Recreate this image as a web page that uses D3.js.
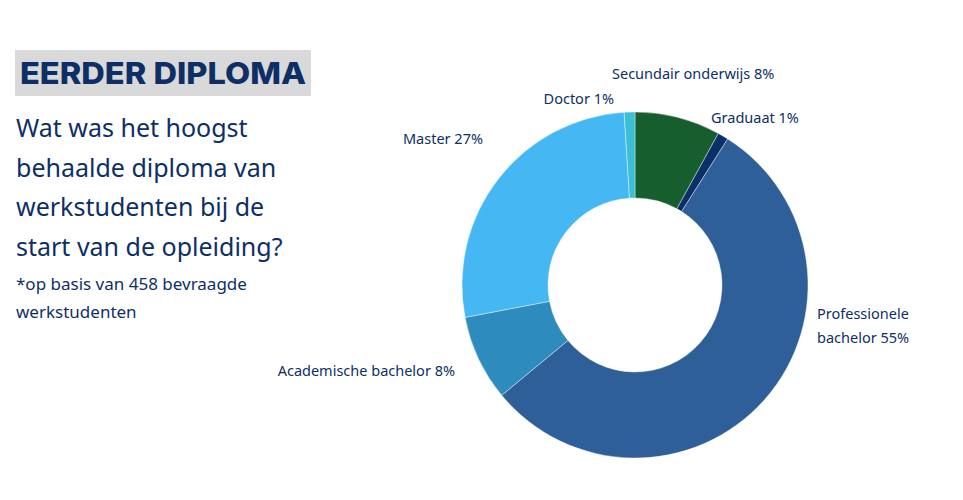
<!DOCTYPE html>
<html>
<head>
<meta charset="utf-8">
<script src="https://cdn.jsdelivr.net/npm/d3@7"></script>
<style>
  body { margin: 0; background: #fff; }
  svg { display: block; }
</style>
</head>
<body>
<div class="parent"></div>
<script>
// data, clockwise from 12 o'clock
const categories = ["Secundair onderwijs", "Graduaat", "Professionele bachelor", "Academische bachelor", "Master", "Doctor"];
const values = [8, 1, 55, 8, 27, 1];
const colors = ["#175e2f", "#0b3068", "#2e5f99", "#2d8bbd", "#45b8f3", "#3bbfd6"];

const titleText = "EERDER DIPLOMA";
const questionLines = ["Wat was het hoogst", "behaalde diploma van", "werkstudenten bij de", "start van de opleiding?"];
const noteLines = ["*op basis van 458 bevraagde", "werkstudenten"];

const width = 963, height = 500;
const cx = 635, cy = 285, outerR = 173, innerR = 87;
const navy = "#0d2f66";
const font = "'Noto Sans', sans-serif";

const svg = d3.select(".parent").append("svg")
  .attr("width", width)
  .attr("height", height);

// header block
svg.append("rect")
  .attr("x", 15).attr("y", 50)
  .attr("width", 296).attr("height", 46)
  .attr("fill", "#d9d9d9");

svg.append("text")
  .attr("x", 20).attr("y", 84)
  .attr("fill", navy)
  .style("font-family", "Inter, 'DejaVu Sans', sans-serif")
  .style("font-weight", 800)
  .style("font-size", "30px")
  .attr("textLength", 286)
  .attr("lengthAdjust", "spacingAndGlyphs")
  .text(titleText);

svg.append("g").selectAll("text")
  .data(questionLines)
  .join("text")
  .attr("x", 16)
  .attr("y", (d, i) => 137 + i * 39.5)
  .attr("fill", navy)
  .style("font-family", font)
  .style("font-size", "25px")
  .text(d => d);

svg.append("g").selectAll("text")
  .data(noteLines)
  .join("text")
  .attr("x", 16)
  .attr("y", (d, i) => 290 + i * 28)
  .attr("fill", navy)
  .style("font-family", font)
  .style("font-size", "17px")
  .text(d => d);

// donut
const pie = d3.pie().sort(null).value(d => d);
const arcs = pie(values);
const arc = d3.arc().innerRadius(innerR).outerRadius(outerR);

const g = svg.append("g").attr("transform", `translate(${cx},${cy})`);

g.selectAll("path")
  .data(arcs)
  .join("path")
  .attr("d", arc)
  .attr("fill", (d, i) => colors[i])
  .attr("stroke", "#fff")
  .attr("stroke-width", 0.4);

// label placement (annotation layout, pixels relative to page)
const labelLayout = [
  { x: 612, y: 79, anchor: "start" },
  { x: 711, y: 123, anchor: "start" },
  { x: 817, y: 319, anchor: "start", lines: ["Professionele", "bachelor 55%"] },
  { x: 455, y: 376, anchor: "end" },
  { x: 483, y: 144, anchor: "end" },
  { x: 614, y: 104, anchor: "end" }
];

const labels = svg.append("g")
  .style("font-family", font)
  .style("font-size", "14.5px")
  .attr("fill", navy);

arcs.forEach((a, i) => {
  const L = labelLayout[i];
  const lines = L.lines || [`${categories[i]} ${values[i]}%`];
  const t = labels.append("text")
    .attr("x", L.x).attr("y", L.y)
    .attr("text-anchor", L.anchor);
  lines.forEach((ln, j) => {
    t.append("tspan")
      .attr("x", L.x)
      .attr("dy", j === 0 ? 0 : 24)
      .text(ln);
  });
});
</script>
</body>
</html>
